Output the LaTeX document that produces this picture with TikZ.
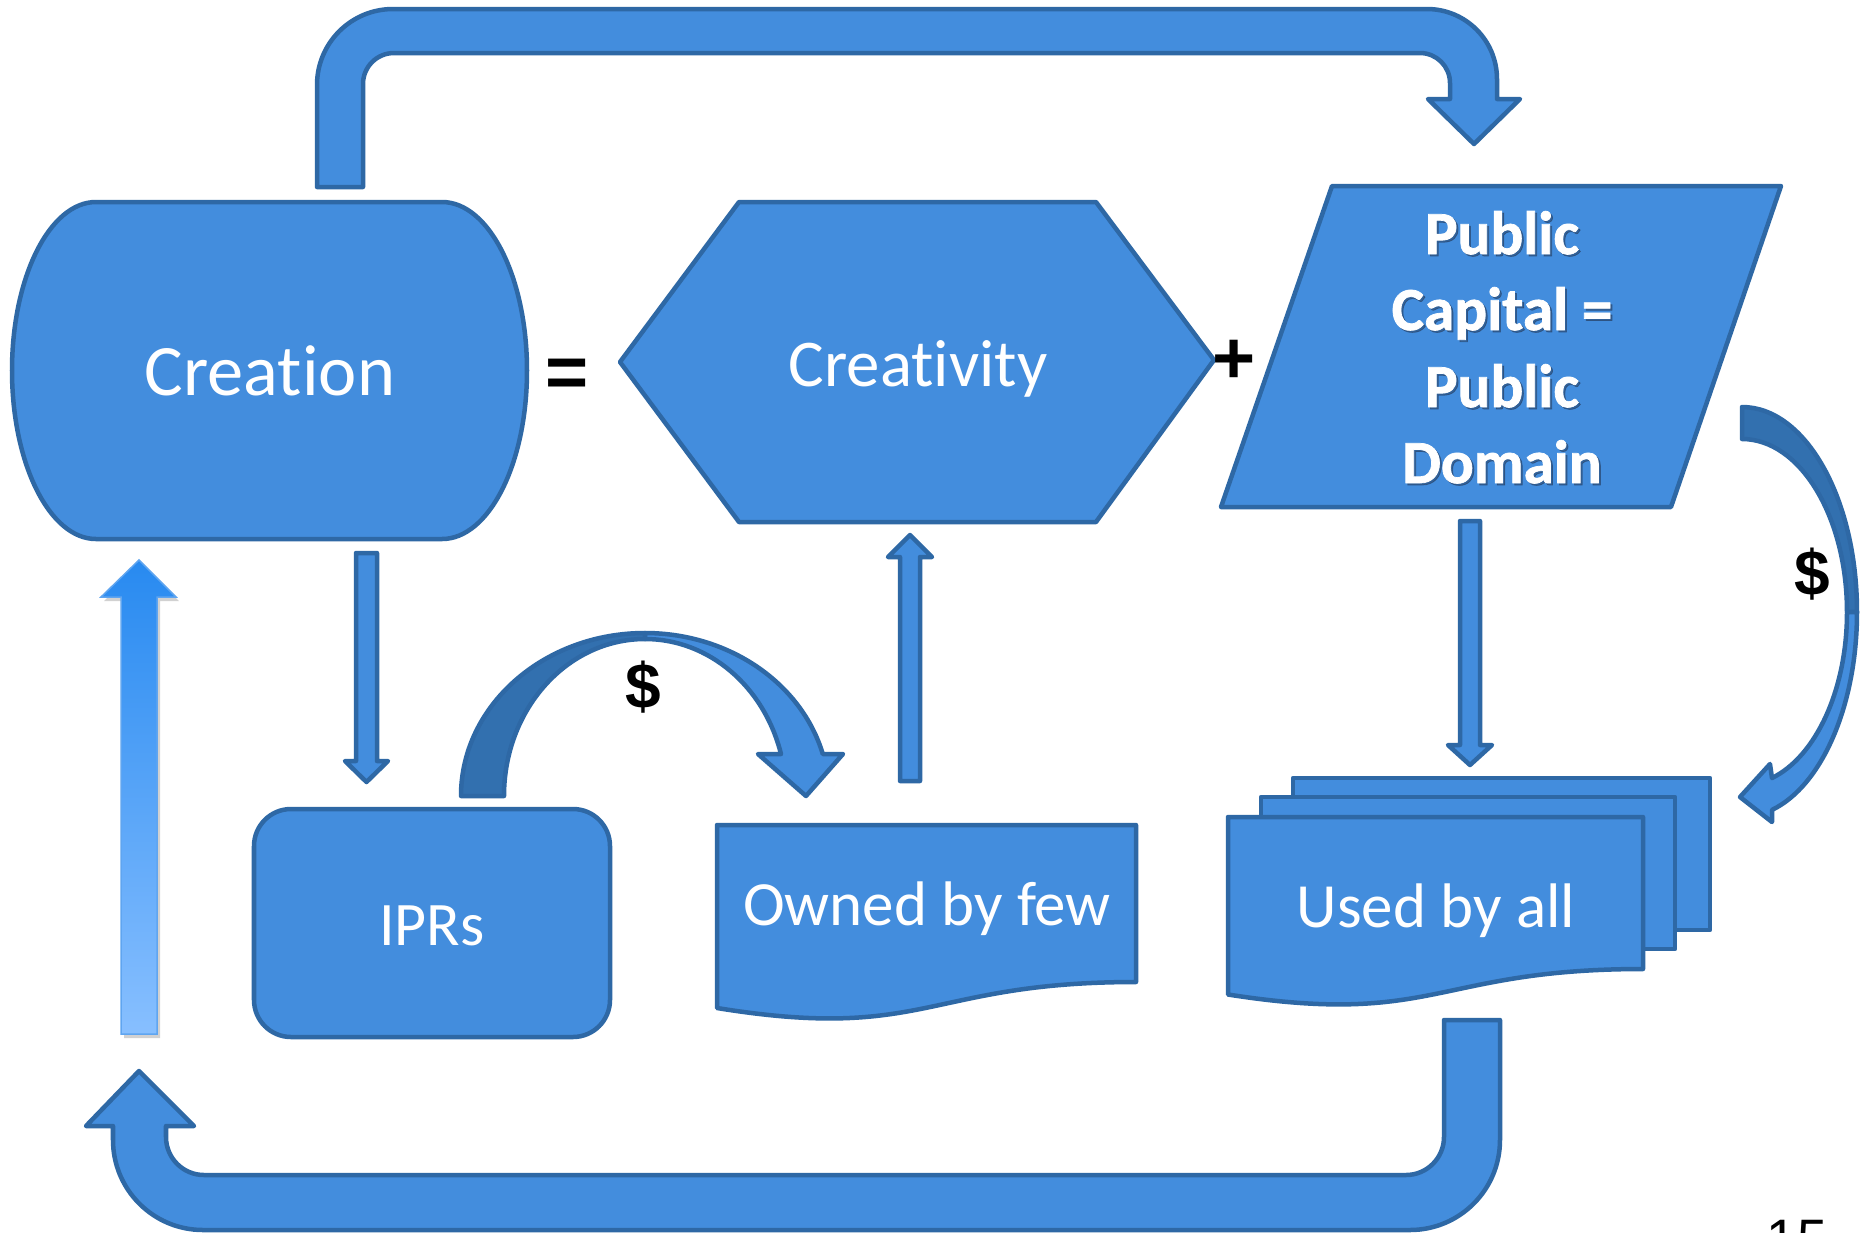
\documentclass[tikz,border=0pt]{standalone}
\usepackage{fontspec}
\setmainfont{Carlito}[Ligatures=NoCommon]
\newfontfamily\pubfont{Carlito Bold}[FakeBold=1.2,Ligatures=NoCommon]
\newfontfamily\symfont{Liberation Sans}
\definecolor{boxfill}{RGB}{67,141,221}
\definecolor{boxline}{RGB}{46,104,165}
\definecolor{backfill}{RGB}{50,112,175}
\definecolor{gradtop}{RGB}{40,138,240}
\definecolor{gradbot}{RGB}{135,191,255}
\definecolor{gradline}{RGB}{95,165,240}
\definecolor{pubshadow}{RGB}{35,55,85}
\begin{document}
\begin{tikzpicture}[x=0.01cm,y=-0.01cm,
  blk/.style={fill=boxfill,draw=boxline,line width=0.045cm,line join=round},
  backblk/.style={fill=backfill,draw=boxline,line width=0.045cm,line join=round},
  lbl/.style={text=white,inner sep=0pt,anchor=base},
  publbl/.style={text=white,inner sep=0pt,anchor=base,font=\pubfont\fontsize{17.4}{20}\selectfont},
  pubsh/.style={text=pubshadow,opacity=0.5,inner sep=0pt,anchor=base,font=\pubfont\fontsize{17.4}{20}\selectfont},
  sym/.style={text=black,inner sep=0pt,font=\symfont\bfseries\fontsize{21}{24}\selectfont},
  dollar/.style={text=black,inner sep=0pt,font=\symfont\bfseries\fontsize{18.2}{22}\selectfont}]
\clip (0,0) rectangle (1862,1232);
\fill[white] (0,0) rectangle (1862,1232);

% top loop arrow (Creation -> Public Capital)
\path[blk] (317,187) -- (317,85) arc[start angle=180,end angle=270,radius=76]
  -- (1427,9) arc[start angle=270,end angle=360,radius=70]
  -- (1497,99) -- (1520,99) -- (1474,144) -- (1428,99) -- (1450,99)
  -- (1450,83) arc[start angle=0,end angle=-90,radius=30]
  -- (394,53) arc[start angle=270,end angle=180,radius=31]
  -- (363,187) -- cycle;

% bottom loop arrow (Used by all -> Creation)
\path[blk] (1444,1020) -- (1500,1020) -- (1500,1140) arc[start angle=0,end angle=90,radius=90]
  -- (203,1230) arc[start angle=90,end angle=180,radius=90]
  -- (113,1126) -- (86,1126) -- (139,1071) -- (194,1126) -- (166,1126)
  -- (166,1137) arc[start angle=180,end angle=90,radius=38]
  -- (1406,1175) arc[start angle=90,end angle=0,radius=38] -- cycle;

% Creation
\path[blk] (96,202) -- (442,202) arc[start angle=-90,end angle=90,x radius=85,y radius=168.5]
  -- (96,539) arc[start angle=90,end angle=270,x radius=84,y radius=168.5] -- cycle;
\node[lbl,font=\fontsize{20.6}{24}\selectfont] (creation) at (270,395) {Creation};

% Creativity
\path[blk] (620,362) -- (739,202) -- (1096,202) -- (1214,360) -- (1096,522) -- (739,522) -- cycle;
\node[lbl,font=\fontsize{19}{23}\selectfont] (creativity) at (918,386) {Creativity};

% Public capital
\path[blk] (1332,186) -- (1781,186) -- (1671,507) -- (1221,507) -- cycle;
\node[pubsh] at (1504,256) {Public};
\node[pubsh] at (1504,332) {Capital =};
\node[pubsh] at (1504,409) {Public};
\node[pubsh] at (1504,485) {Domain};
\node[publbl] (pub1) at (1502,254) {Public};
\node[publbl] (pub2) at (1502,330) {Capital =};
\node[publbl] (pub3) at (1502,407) {Public};
\node[publbl] (pub4) at (1502,483) {Domain};

\node[sym] (eq) at (567,378) {=};
\node[sym] (plus) at (1234.5,361.5) {+};

% gradient arrow
\begin{scope}[shift={(3,4)}]
\fill[black,opacity=0.18] (121,1034) -- (121,597) -- (101,597) -- (139,560) -- (176,597) -- (157,597) -- (157,1034) -- cycle;
\end{scope}
\path[top color=gradtop,bottom color=gradbot,draw=gradline,line width=0.015cm]
  (121,1034) -- (121,597) -- (101,597) -- (139,560) -- (176,597) -- (157,597) -- (157,1034) -- cycle;

% thin arrows
\path[blk] (356,553) -- (377,553) -- (377,761) -- (388,761) -- (366.5,782) -- (345,761) -- (356,761) -- cycle;
\path[blk] (900,781) -- (900,557) -- (888,557) -- (910,535) -- (932,557) -- (920,557) -- (920,781) -- cycle;
\path[blk] (1460,521) -- (1480,521) -- (1480,745) -- (1492,745) -- (1470,765) -- (1448,745) -- (1460,745) -- cycle;

% IPRs
\path[blk,rounded corners=0.37cm] (254,809) rectangle (610,1037);
\node[lbl,font=\fontsize{17.6}{21}\selectfont] (iprs) at (432,945) {IPRs};

% curved arrow IPRs -> Owned by few
\path[backblk] (461,796) arc[start angle=180,end angle=270,x radius=184,y radius=163]
  -- (645,639) arc[start angle=270,end angle=180,x radius=141,y radius=157] -- cycle;
\path[blk] (645,633) arc[start angle=270,end angle=345.07,x radius=184,y radius=163]
  -- (843,754) -- (806,796) -- (758,754) -- (781,754)
  arc[start angle=344.48,end angle=270,x radius=141,y radius=157] -- cycle;
\node[dollar] (d1) at (643,687) {\$};

% Owned by few
\path[blk] (717,825) -- (1136,825) -- (1136,982) .. controls (926.5,982) and (926.5,1042) .. (717,1008) -- cycle;
\node[lbl,font=\fontsize{17.9}{21}\selectfont] (owned) at (927,925) {Owned by few};

% Used by all (multi-document)
\path[blk] (1293,778) rectangle (1710,930);
\path[blk] (1261,797) rectangle (1675,949);
\path[blk] (1228,817) -- (1643,817) -- (1643,969) .. controls (1435.5,969) and (1435.5,1027) .. (1228,994.5) -- cycle;
\node[lbl,font=\fontsize{17.9}{21}\selectfont] (used) at (1436,927) {Used by all};

% right curved arrow
\path[backblk] (1742,407) arc[start angle=270,end angle=360,x radius=115,y radius=205]
  -- (1847,612) arc[start angle=0,end angle=-90,x radius=105,y radius=173] -- cycle;
\path[blk] (1857,612) arc[start angle=0,end angle=74.88,x radius=115,y radius=205]
  -- (1772,822) -- (1740,797) -- (1770,764) -- (1772,778)
  arc[start angle=73.4,end angle=0,x radius=105,y radius=173] -- cycle;
\node[dollar] (d2) at (1812,574) {\$};

% page number (cut off by the lower edge, as in the reference)
\node[inner sep=0pt,anchor=base,font=\symfont\fontsize{15.4}{18}\selectfont] (pg) at (1797,1257) {15};
\end{tikzpicture}
\end{document}
